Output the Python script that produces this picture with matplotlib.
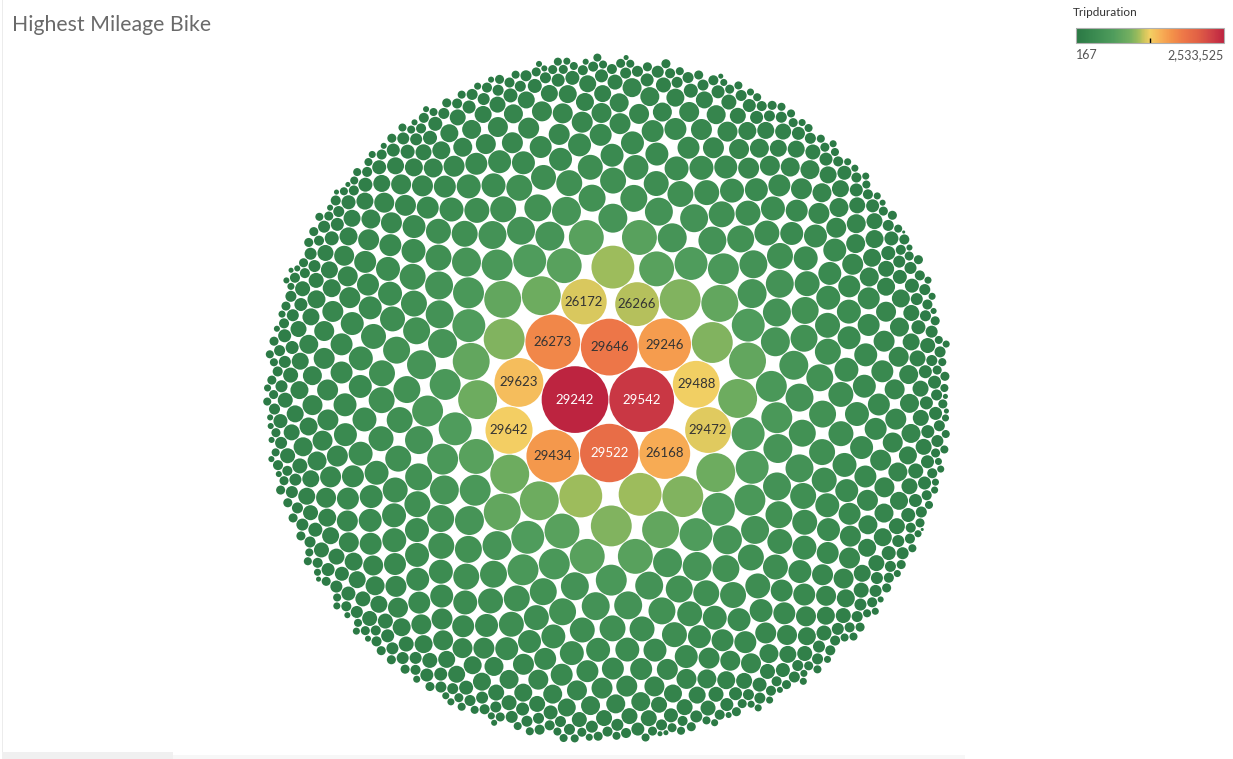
import numpy as np
import matplotlib
matplotlib.use("Agg")
import matplotlib.pyplot as plt
from matplotlib.patches import Circle, Rectangle
from matplotlib.collections import PatchCollection
from matplotlib.colors import LinearSegmentedColormap, Normalize
from matplotlib.cm import ScalarMappable

# ---------------- data ----------------
title = "Highest Mileage Bike"
legend_title = "Tripduration"

labeled_bikes = ["29242", "29542", "29522", "29646", "26273", "29434", "29246",
                 "26168", "29623", "29642", "29488", "29472", "26172", "26266"]
labeled_durations = [2533525, 2387000, 1950000, 1843000, 1718000, 1598000, 1580000,
                     1480000, 1370000, 1275000, 1262000, 1210000, 1190000, 1110000]

# unlabeled bikes, grouped by estimated total trip duration
other_durations = [1060700, 966500, 876600, 791200, 710100, 633400, 561000, 493100,
                   460800, 429600, 399400, 370400, 342400, 315600, 289800, 265200,
                   241600, 219200, 197800, 177500, 158300, 140300, 123300, 107400,
                   92600, 78900, 66300, 54800, 44400, 35100, 26800, 19700, 8800, 167]
other_counts = [3, 5, 6, 6, 8, 10, 13, 17,
                19, 22, 26, 29, 33, 38, 40, 40,
                40, 38, 33, 30, 28, 28, 28, 32,
                36, 45, 52, 58, 55, 40, 25, 10, 2, 1]

legend_min_label = "167"
legend_max_label = "2,533,525"

# ---------------- assemble ----------------
labels = list(labeled_bikes) + [""] * int(np.sum(other_counts))
values = np.array(list(labeled_durations) +
                  list(np.repeat(other_durations, other_counts)), dtype=float)
order = np.argsort(-values, kind="stable")
values = values[order]
labels = [labels[i] for i in order]
radii = np.sqrt(values)


# ---------------- front-chain circle packing (d3 packSiblings) ----------------
def pack_circles(rs):
    n = len(rs)
    xs = np.zeros(n)
    ys = np.zeros(n)

    def place(b, a, c):
        dx = xs[b] - xs[a]
        dy = ys[b] - ys[a]
        d2 = dx * dx + dy * dy
        if d2:
            a2 = (rs[a] + rs[c]) ** 2
            b2 = (rs[b] + rs[c]) ** 2
            if a2 > b2:
                x = (d2 + b2 - a2) / (2 * d2)
                y = np.sqrt(max(0.0, b2 / d2 - x * x))
                xs[c] = xs[b] - x * dx - y * dy
                ys[c] = ys[b] - x * dy + y * dx
            else:
                x = (d2 + a2 - b2) / (2 * d2)
                y = np.sqrt(max(0.0, a2 / d2 - x * x))
                xs[c] = xs[a] + x * dx - y * dy
                ys[c] = ys[a] + x * dy + y * dx
        else:
            xs[c] = xs[a] + rs[c]
            ys[c] = ys[a]

    def intersects(a, b):
        dr = rs[a] + rs[b] - 1e-6
        dx = xs[b] - xs[a]
        dy = ys[b] - ys[a]
        return dr > 0 and dr * dr > dx * dx + dy * dy

    nxt = [-1] * n
    prv = [-1] * n

    def score(a):
        b = nxt[a]
        ab = rs[a] + rs[b]
        dx = (xs[a] * rs[b] + xs[b] * rs[a]) / ab
        dy = (ys[a] * rs[b] + ys[b] * rs[a]) / ab
        return dx * dx + dy * dy

    xs[0] = -rs[1]
    xs[1] = rs[0]
    place(1, 0, 2)
    a, b, c = 0, 1, 2
    nxt[a] = b; prv[c] = b
    nxt[b] = c; prv[a] = c
    nxt[c] = a; prv[b] = a

    i = 3
    while i < n:
        place(a, b, i)
        j = nxt[b]; k = prv[a]; sj = rs[b]; sk = rs[a]
        restart = False
        while True:
            if sj <= sk:
                if intersects(j, i):
                    b = j; nxt[a] = b; prv[b] = a
                    restart = True
                    break
                sj += rs[j]; j = nxt[j]
            else:
                if intersects(k, i):
                    a = k; nxt[a] = b; prv[b] = a
                    restart = True
                    break
                sk += rs[k]; k = prv[k]
            if j == nxt[k]:
                break
        if restart:
            continue
        prv[i] = a; nxt[i] = b; nxt[a] = i; prv[b] = i; b = i
        aa = score(a)
        c = nxt[i]
        while c != i:
            ca = score(c)
            if ca < aa:
                a = c; aa = ca
            c = nxt[c]
        b = nxt[a]
        i += 1
    return xs, ys


px, py = pack_circles(radii)

# fit the packed layout into the view
CX, CY, R_OUT = 606.5, 398.0, 349.0
bx0, bx1 = np.min(px - radii), np.max(px + radii)
by0, by1 = np.min(py - radii), np.max(py + radii)
mx, my = (bx0 + bx1) / 2, (by0 + by1) / 2
rad_enc = np.max(np.hypot(px - mx, py - my) + radii)
s = R_OUT / rad_enc
X = CX + (px - mx) * s
Y = CY + (py - my) * s
Rpx = radii * s

# ---------------- colours ----------------
cmap = LinearSegmentedColormap.from_list("rgg", [
    (0.00, "#2a7844"), (0.12, "#3a8a50"), (0.25, "#4f9c5c"), (0.36, "#72ae60"),
    (0.42, "#9dbc5c"), (0.46, "#cfc55c"), (0.50, "#f3cf63"), (0.58, "#f7ad55"),
    (0.65, "#f39149"), (0.73, "#ed7648"), (0.82, "#e26245"), (0.92, "#cf4046"),
    (1.00, "#bd2440")])
norm = Normalize(vmin=values.min(), vmax=values.max())
colors = cmap(norm(values))

# ---------------- figure ----------------
W, H = 1233, 759
fig = plt.figure(figsize=(W / 100, H / 100), dpi=100)
fig.patch.set_facecolor("white")
ax = fig.add_axes([0, 0, 1, 1])
ax.set_xlim(0, W)
ax.set_ylim(H, 0)
ax.set_aspect("equal")
ax.axis("off")

patches = [Circle((x, y), max(r - 0.45, 0.2)) for x, y, r in zip(X, Y, Rpx)]
pc = PatchCollection(patches, facecolors=colors, edgecolors="none", antialiased=True)
ax.add_collection(pc)

for x, y, lab, col in zip(X, Y, labels, colors):
    if lab:
        lum = 0.299 * col[0] + 0.587 * col[1] + 0.114 * col[2]
        tc = "white" if lum < 0.57 else "#333333"
        ax.text(x, y, lab, ha="center", va="center", fontsize=9.5,
                family=["Lato", "DejaVu Sans"], color=tc)

# page furniture
ax.add_patch(Rectangle((2, 0), 1, 752, facecolor="#ececec", edgecolor="none"))
ax.add_patch(Rectangle((2, 752), 171, 7, facecolor="#f0f0f0", edgecolor="none"))
ax.add_patch(Rectangle((173, 755), 792, 4, facecolor="#f7f7f7", edgecolor="none"))

ax.text(12, 25, title, ha="left", va="center", fontsize=15.3, color="#6a6a6a",
        family=["Lato", "DejaVu Sans"], fontweight="normal")

# ---------------- legend ----------------
ax.text(1073, 13, legend_title, ha="left", va="center", fontsize=8.5,
        color="#333333", family=["Lato", "DejaVu Sans"])
cax = fig.add_axes([1076 / W, 1 - 43 / H, 148 / W, 15 / H])
cb = fig.colorbar(ScalarMappable(norm=norm, cmap=cmap), cax=cax, orientation="horizontal")
cb.set_ticks([])
cb.outline.set_edgecolor("#b0b0b0")
cb.outline.set_linewidth(0.8)
mid = (values.min() + values.max()) / 2
cax.plot([mid, mid], [0.0, 0.35], color="black", lw=1, solid_capstyle="butt")
ax.text(1076, 55, legend_min_label, ha="left", va="center", fontsize=9,
        color="#555555", family=["Lato", "DejaVu Sans"])
ax.text(1224, 55, legend_max_label, ha="right", va="center", fontsize=9,
        color="#555555", family=["Lato", "DejaVu Sans"])

fig.savefig("out.png", dpi=100, facecolor="white")
